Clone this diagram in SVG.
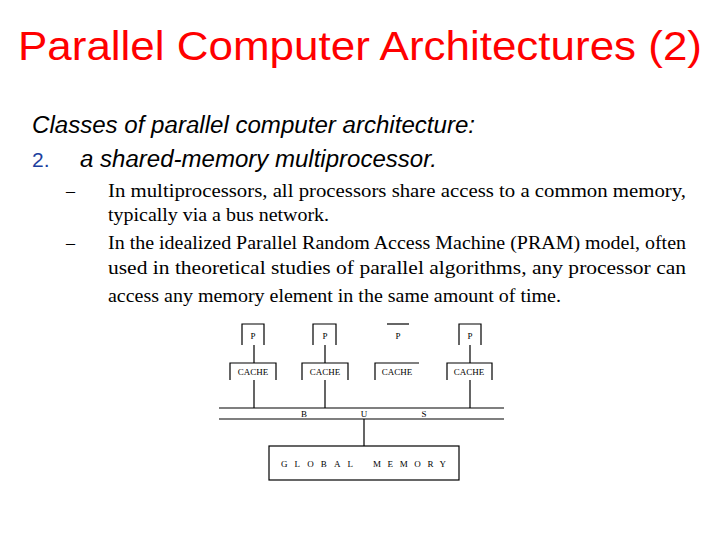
<svg xmlns="http://www.w3.org/2000/svg" width="720" height="540" viewBox="0 0 720 540">
<style>
.s{font-family:"Liberation Sans",Arial,sans-serif}
.t{font-family:"Liberation Serif","Times New Roman",serif;font-size:18px}
.ln{stroke:#000;stroke-width:1.2;fill:none}
.d{font-family:"Liberation Serif",serif;font-size:9px}
</style>
<rect width="720" height="540" fill="#fff"/>
<text class="s" x="360" y="60" font-size="40" fill="#f00" text-anchor="middle" textLength="684" lengthAdjust="spacingAndGlyphs">Parallel Computer Architectures (2)</text>
<text class="s" x="32" y="133" font-size="23" font-style="italic" textLength="443" lengthAdjust="spacingAndGlyphs">Classes of parallel computer architecture:</text>
<text class="s" x="32" y="167" font-size="21" fill="#1c3f9e">2.</text>
<text class="s" x="80" y="167" font-size="23" font-style="italic" textLength="357" lengthAdjust="spacingAndGlyphs">a shared-memory multiprocessor.</text>
<text class="t" x="66" y="197">–</text>
<text class="t" x="66" y="249">–</text>
<text class="t" x="108" y="197" textLength="578" lengthAdjust="spacingAndGlyphs">In multiprocessors, all processors share access to a common memory,</text>
<text class="t" x="108" y="221" textLength="221" lengthAdjust="spacingAndGlyphs">typically via a bus network.</text>
<text class="t" x="108" y="249" textLength="578" lengthAdjust="spacingAndGlyphs">In the idealized Parallel Random Access Machine (PRAM) model, often</text>
<text class="t" x="108" y="274" textLength="578" lengthAdjust="spacingAndGlyphs">used in theoretical studies of parallel algorithms, any processor can</text>
<text class="t" x="108" y="302" textLength="453" lengthAdjust="spacingAndGlyphs">access any memory element in the same amount of time.</text>
<g id="p1"><path class="ln" d="M242 345V324H264V345"/><text class="d" x="253" y="339" text-anchor="middle">P</text></g>
<g id="p2"><path class="ln" d="M313 345V324H336V345"/><text class="d" x="325" y="339" text-anchor="middle">P</text></g>
<g id="p3"><path class="ln" d="M387 324H409"/><text class="d" x="398" y="339" text-anchor="middle">P</text></g>
<g id="p4"><path class="ln" d="M459 345V324H481V345"/><text class="d" x="470" y="339" text-anchor="middle">P</text></g>
<g id="c1"><path class="ln" d="M230 380V363H276V380"/><text class="d" x="253" y="375" text-anchor="middle">CACHE</text></g>
<g id="c2"><path class="ln" d="M302 380V363H348V380"/><text class="d" x="325" y="375" text-anchor="middle">CACHE</text></g>
<g id="c3"><path class="ln" d="M375 380V363H419"/><text class="d" x="397" y="375" text-anchor="middle">CACHE</text></g>
<g id="c4"><path class="ln" d="M447 380V363H492V380"/><text class="d" x="469" y="375" text-anchor="middle">CACHE</text></g>
<g id="bus"><path class="ln" d="M219 408H504M219 419H504"/>
<text class="d" x="304" y="417" text-anchor="middle">B</text><text class="d" x="364" y="417" text-anchor="middle">U</text><text class="d" x="424" y="417" text-anchor="middle">S</text></g>
<g id="mem"><rect class="ln" x="269" y="446" width="190" height="34"/><text class="d" x="281" y="467" textLength="72" lengthAdjust="spacing">GLOBAL</text><text class="d" x="373" y="467" textLength="73" lengthAdjust="spacing">MEMORY</text></g>
<g id="connectors"><path class="ln" d="M254 345V363M325 345V363M470 345V363M254 380V408M325 380V408M470 380V408M364 419V446"/></g>
</svg>
